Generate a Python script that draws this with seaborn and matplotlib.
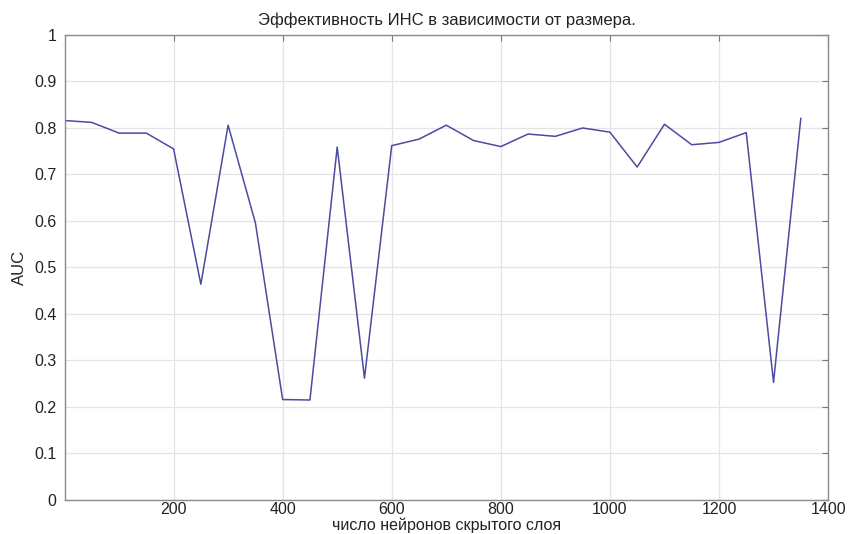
import matplotlib
matplotlib.use("Agg")
import matplotlib.pyplot as plt
import seaborn as sns
import pandas as pd

# Hidden-layer size vs. AUC
neurons = [1, 50, 100, 150, 200, 250, 300, 350, 400, 450, 500, 550, 600, 650,
           700, 750, 800, 850, 900, 950, 1000, 1050, 1100, 1150, 1200, 1250,
           1300, 1350]
auc = [0.816, 0.812, 0.789, 0.789, 0.755, 0.464, 0.806, 0.596, 0.216, 0.215,
       0.759, 0.262, 0.762, 0.776, 0.806, 0.773, 0.760, 0.787, 0.782, 0.800,
       0.791, 0.716, 0.808, 0.764, 0.769, 0.790, 0.253, 0.821]

x_ticks = [200, 400, 600, 800, 1000, 1200, 1400]
y_ticks = [0, 0.1, 0.2, 0.3, 0.4, 0.5, 0.6, 0.7, 0.8, 0.9, 1]
y_tick_labels = ["0", "0.1", "0.2", "0.3", "0.4", "0.5", "0.6", "0.7", "0.8", "0.9", "1"]

df = pd.DataFrame({"neurons": neurons, "auc": auc})

sns.set_style("white")
plt.rcParams["font.family"] = ["Liberation Sans", "DejaVu Sans"]

fig = plt.figure(figsize=(8.48, 5.34), dpi=100)
ax = fig.add_axes([0.0767, 0.0637, 0.8998, 0.8708])

sns.lineplot(data=df, x="neurons", y="auc", ax=ax, color="#4b4ba0",
             linewidth=1.1)

ax.set_xlim(1, 1400)
ax.set_ylim(0, 1)
ax.set_xticks(x_ticks)
ax.set_xticklabels([str(t) for t in x_ticks])
ax.set_yticks(y_ticks)
ax.set_yticklabels(y_tick_labels)

ax.grid(True, color="#e4e4e8", linewidth=0.9)
ax.tick_params(direction="in", length=4, width=0.8, color="#777777",
               top=True, right=True, labelsize=11.5, labelcolor="#222222")
ax.tick_params(axis="x", pad=1.5)
ax.tick_params(axis="y", pad=6)
for side in ax.spines.values():
    side.set_color("#8a8a8a")
    side.set_linewidth(1.0)

ax.set_title("Эффективность ИНС в зависимости от размера.", fontsize=12,
             color="#222222", pad=7)
ax.set_xlabel("число нейронов скрытого слоя", fontsize=11.5, color="#222222",
              va="bottom")
ax.xaxis.set_label_coords(0.5, -0.0705)
ax.set_ylabel("AUC", fontsize=12, color="#222222", labelpad=5)

fig.savefig("out.png", dpi=100)
